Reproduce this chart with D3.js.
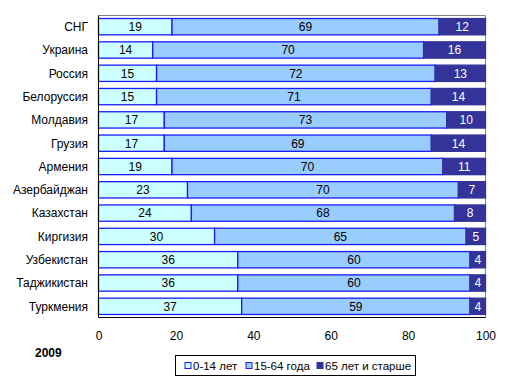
<!DOCTYPE html>
<html>
<head>
<meta charset="utf-8">
<script src="https://cdn.jsdelivr.net/npm/d3@7"></script>
<style>
  body { margin: 0; background: #fff; }
  svg { font-family: Arial, "Liberation Sans", sans-serif; }
</style>
</head>
<body>
<div class="container"></div>
<script>
const countries = ["СНГ", "Украина", "Россия", "Белоруссия", "Молдавия", "Грузия", "Армения",
    "Азербайджан", "Казахстан", "Киргизия", "Узбекистан", "Таджикистан", "Туркмения"];
const age0_14 = [19, 14, 15, 15, 17, 17, 19, 23, 24, 30, 36, 36, 37];
const age15_64 = [69, 70, 72, 71, 73, 69, 70, 70, 68, 65, 60, 60, 59];
const age65 = [12, 16, 13, 14, 10, 14, 11, 7, 8, 5, 4, 4, 4];
const seriesNames = ["0-14 лет", "15-64 года", "65 лет и старше"];
const xTicks = [0, 20, 40, 60, 80, 100];

const w = 511, h = 383;
const plotL = 98.5, plotR = 485.5, plotT = 15.5, plotB = 317.5;
const fills = ["#ccffff", "#99ccff", "#333399"];

const svg = d3.select('.container')
    .append('svg')
    .attr('width', w)
    .attr('height', h);

const x = d3.scaleLinear().domain([0, 100]).range([plotL, plotR]);
const y = d3.scaleBand().domain(countries).range([plotT, plotB])
    .paddingInner(0.3).paddingOuter(0.13);

const rows = countries.map((c, i) => ({c, v: [age0_14[i], age15_64[i], age65[i]]}));

// frame: gray top/right, black left/bottom
svg.append('path')
    .attr('d', `M${plotL},${plotT}H${plotR}V${plotB}`)
    .attr('fill', 'none').attr('stroke', '#808080');

const g = svg.append('g');
rows.forEach(r => {
    let acc = 0;
    r.v.forEach((v, k) => {
        const x0 = x(acc), x1 = x(acc + v);
        g.append('rect')
            .attr('x', x0).attr('y', y(r.c))
            .attr('width', x1 - x0).attr('height', y.bandwidth())
            .attr('fill', fills[k])
            .attr('stroke', k === 2 ? '#333399' : '#1a1aff')
            .attr('stroke-width', 1.3);
        g.append('text')
            .attr('x', (x0 + x1) / 2)
            .attr('y', y(r.c) + y.bandwidth() / 2)
            .attr('dy', '0.36em')
            .attr('text-anchor', 'middle')
            .attr('font-size', 12)
            .attr('fill', k === 2 ? '#fff' : '#000')
            .text(v);
        acc += v;
    });
});

// category labels
svg.append('g').selectAll('text')
    .data(countries)
    .enter()
    .append('text')
    .attr('x', 88)
    .attr('y', d => y(d) + y.bandwidth() / 2)
    .attr('dy', '0.36em')
    .attr('text-anchor', 'end')
    .attr('font-size', 12)
    .text(d => d);

svg.append('path')
    .attr('d', `M${plotL},${plotT}V${plotB}H${plotR}`)
    .attr('fill', 'none').attr('stroke', '#000');

// x axis labels (no tick marks)
const axis = d3.axisBottom(x).tickValues(xTicks).tickSize(0).tickPadding(14);
svg.append('g')
    .attr('transform', `translate(0,${plotB})`)
    .call(axis)
    .call(a => a.select('.domain').remove())
    .call(a => a.selectAll('text')
        .attr('font-family', 'Arial, "Liberation Sans", sans-serif')
        .attr('font-size', 12).attr('fill', '#000'));

svg.append('text')
    .attr('x', 35).attr('y', 357)
    .attr('font-size', 12).attr('font-weight', 'bold')
    .text('2009');

// legend
const lg = svg.append('g').attr('transform', 'translate(175.5,355.5)');
lg.append('rect').attr('width', 240).attr('height', 20)
    .attr('fill', '#fff').attr('stroke', '#000');
const legX = [9.5, 70.5, 141.5];
seriesNames.forEach((s, k) => {
    lg.append('rect')
        .attr('x', legX[k]).attr('y', 7)
        .attr('width', 6).attr('height', 6)
        .attr('fill', fills[k])
        .attr('stroke', k === 2 ? '#333399' : '#1a1aff');
    lg.append('text')
        .attr('x', legX[k] + 8).attr('y', 10)
        .attr('dy', '0.36em')
        .attr('font-size', 11.5)
        .text(s);
});
</script>
</body>
</html>
